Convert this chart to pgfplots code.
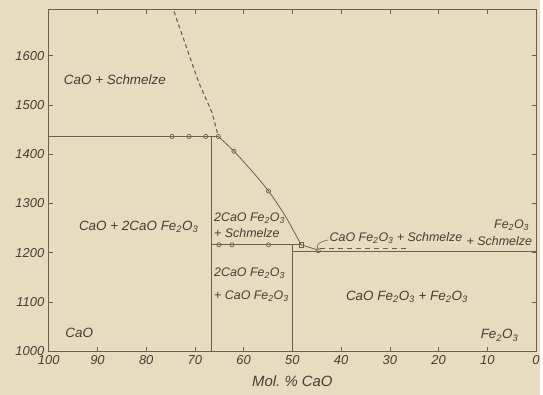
\documentclass[border=0pt]{standalone}
\usepackage{fontspec}
\setmainfont{Liberation Sans}
\usepackage{pgfplots}
\pgfplotsset{compat=1.18}
\usetikzlibrary{backgrounds}
\definecolor{bg}{RGB}{232,220,192}
\definecolor{ln}{RGB}{105,97,82}
\definecolor{tx}{RGB}{68,62,52}
\newcommand{\lab}{\fontsize{13.5}{15}\selectfont\itshape}
\newcommand{\labs}{\fontsize{12.5}{14}\selectfont\itshape}
\newcommand{\FeO}{Fe\textsubscript{2}O\textsubscript{3}}
\begin{document}
\begin{tikzpicture}
\begin{axis}[
  width=490pt, height=343pt, scale only axis,
  xmin=0, xmax=100, x dir=reverse,
  ymin=1000, ymax=1693,
  xtick={0,10,...,100}, ytick={1000,1100,...,1600},
  axis line style={ln, line width=0.9pt},
  tick style={ln, line width=0.6pt},
  major tick length=4pt,
  tick align=inside,
  /pgf/number format/assume math mode=true,
  /pgf/number format/1000 sep={},
  tick label style={font=\fontsize{13}{15}\selectfont\itshape, text=tx},
  xlabel={Mol.\ \% CaO},
  xlabel style={font=\fontsize{15}{17}\selectfont\itshape, text=tx, at={(axis description cs:0.5,-0.088)}, anchor=center},
  xticklabel style={yshift=-1pt},
  yticklabel style={xshift=-1pt},
  clip=false,
]
% 2CaO.Fe2O3 incongruent melting line
\addplot[ln, line width=0.8pt] coordinates {(100,1436) (65.2,1436)};
\addplot[ln, line width=0.8pt] coordinates {(66.7,1436) (66.7,1000)};
% CaO.Fe2O3 line
\addplot[ln, line width=0.8pt] coordinates {(66.7,1216) (48.2,1216)};
\addplot[ln, line width=0.5pt] coordinates {(50,1216) (50,1000)};
% eutectic
\addplot[ln, line width=0.8pt] coordinates {(50,1203) (0,1203)};
\addplot[ln, line width=0.9pt, dash pattern=on 5pt off 4pt] coordinates {(44.3,1208) (26.3,1208)};
% liquidus dashed (CaO side)
\addplot[ln, line width=1.1pt, dash pattern=on 4pt off 3pt] coordinates {(74.3,1690) (69.2,1545) (66.5,1485) (65.2,1436)};
% liquidus solid
\addplot[ln, line width=0.8pt, smooth] coordinates {(65.2,1436) (62.0,1406) (58.5,1368) (54.9,1325) (51.5,1275) (48.2,1216)};
\addplot[ln, line width=0.8pt] coordinates {(48.2,1216) (44.7,1205)};
% markers
\addplot[ln, only marks, mark=o, mark size=2.1pt, mark options={fill=bg, line width=0.7pt}] coordinates {
 (74.7,1436) (71.2,1436) (67.8,1436) (65.2,1436) (62.0,1406) (54.9,1325)
 (65.1,1216) (62.4,1216) (54.9,1216) (44.7,1204)};
\addplot[ln, only marks, mark=square, mark size=2.1pt, mark options={fill=bg, line width=0.7pt}] coordinates {(48.2,1216)};
% labels
\node[tx, font=\lab, anchor=west] at (axis cs:97.6,1551) {CaO + Schmelze};
\node[tx, font=\lab, anchor=west] at (axis cs:94.5,1252) {CaO + 2CaO \FeO};
\node[tx, font=\lab, anchor=west] at (axis cs:97.3,1036) {CaO};
\node[tx, font=\labs, anchor=west, inner sep=1pt] at (axis cs:66.3,1269) {2CaO \FeO};
\node[tx, font=\labs, anchor=west, inner sep=1pt] at (axis cs:66.3,1239) {+ Schmelze};
\node[tx, font=\labs, anchor=west, inner sep=1pt] at (axis cs:66.3,1158) {2CaO \FeO};
\node[tx, font=\labs, anchor=west, inner sep=1pt] at (axis cs:66.3,1111) {+ CaO \FeO};
\node[tx, font=\labs, anchor=west, inner sep=1pt] at (axis cs:42.6,1230) {CaO \FeO\ + Schmelze};
\draw[ln, line width=0.6pt] (axis cs:42.6,1226) .. controls (44.6,1222) and (45.4,1214) .. (44.7,1207);
\node[tx, font=\labs, anchor=east, inner sep=1pt] at (axis cs:1.2,1256) {\FeO};
\node[tx, font=\labs, anchor=east, inner sep=1pt] at (axis cs:0.6,1224) {+ Schmelze};
\node[tx, font=\lab, anchor=center] at (axis cs:26.5,1111) {CaO \FeO\ + \FeO};
\node[tx, font=\lab, anchor=center] at (axis cs:7.5,1032) {\FeO};
\end{axis}
\begin{pgfonlayer}{background}
\fill[bg] (-49pt,-44pt) rectangle (494pt,353pt);
\end{pgfonlayer}
\end{tikzpicture}
\end{document}
